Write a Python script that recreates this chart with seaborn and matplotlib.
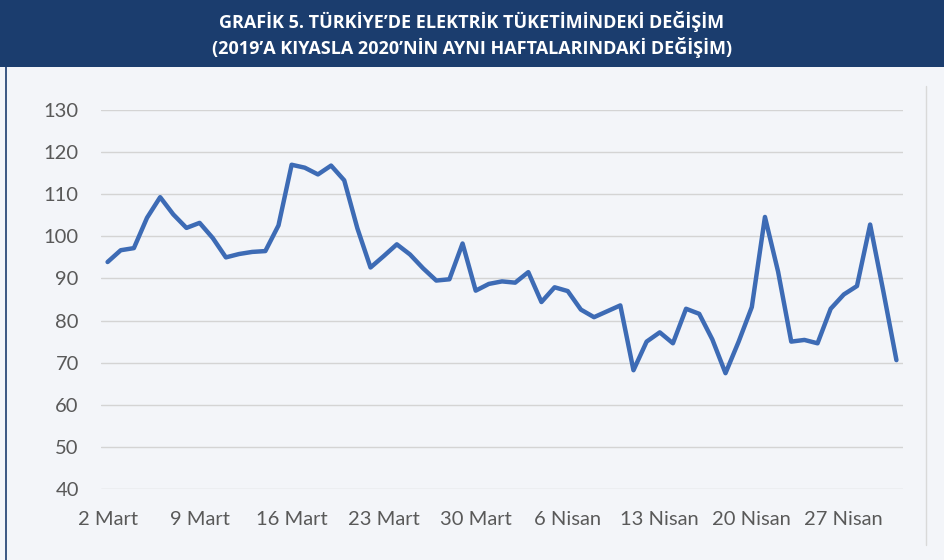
import matplotlib
matplotlib.use('Agg')
import matplotlib.pyplot as plt
import seaborn as sns
import pandas as pd
from matplotlib.patches import Rectangle
from matplotlib.lines import Line2D

# Daily values, 2 Mart - 1 Mayis 2020 (2019 = 100)
values = [93.9, 96.7, 97.2, 104.4, 109.3, 105.2, 102.0, 103.2, 99.6, 95.0,
          95.8, 96.3, 96.5, 102.6, 117.0, 116.3, 114.7, 116.8, 113.3, 101.9,
          92.6, 95.3, 98.1, 95.7, 92.4, 89.5, 89.8, 98.3, 87.1, 88.7,
          89.3, 89.0, 91.5, 84.4, 87.9, 87.0, 82.6, 80.8, 82.2, 83.6,
          68.2, 75.0, 77.2, 74.6, 82.8, 81.6, 75.5, 67.5, 75.0, 83.2,
          104.6, 91.6, 75.0, 75.4, 74.6, 82.8, 86.2, 88.2, 102.8, 87.0,
          70.6]
tick_labels = ['2 Mart', '9 Mart', '16 Mart', '23 Mart', '30 Mart',
               '6 Nisan', '13 Nisan', '20 Nisan', '27 Nisan']
y_ticks = [40, 50, 60, 70, 80, 90, 100, 110, 120, 130]
title_lines = ['GRAFİK 5. TÜRKİYE’DE ELEKTRİK TÜKETİMİNDEKİ DEĞİŞİM',
               '(2019’A KIYASLA 2020’NİN AYNI HAFTALARINDAKİ DEĞİŞİM)']

df = pd.DataFrame({'gun': range(len(values)), 'deger': values})

bg = '#f3f5f9'
navy = '#1b3d6e'
line_color = '#3d6bb5'
text_color = '#595959'

sns.set_style('white')
plt.rcParams['font.family'] = ['Lato', 'DejaVu Sans']

fig = plt.figure(figsize=(9.44, 5.6), dpi=100)
fig.patch.set_facecolor(bg)

# header band
fig.patches.append(Rectangle((0, 1 - 67 / 560), 1, 67 / 560, transform=fig.transFigure,
                             facecolor=navy, edgecolor='none', zorder=0))
fig.text(0.5, 1 - 22 / 560, title_lines[0], ha='center', va='center', color='white',
         fontsize=13, fontweight='bold', family=['Open Sans', 'DejaVu Sans'])
fig.text(0.5, 1 - 48 / 560, title_lines[1], ha='center', va='center', color='white',
         fontsize=13, fontweight='bold', family=['Open Sans', 'DejaVu Sans'])
# left navy border and right grey chart-area edge
fig.lines.append(Line2D([5.5 / 944, 5.5 / 944], [0, 1 - 67 / 560], transform=fig.transFigure,
                        color=navy, lw=1.2))
fig.lines.append(Line2D([926 / 944, 926 / 944], [1 - 545 / 560, 1 - 86 / 560],
                        transform=fig.transFigure, color='#d9d9d9', lw=1))

ax = fig.add_axes([101 / 944, 1 - 489 / 560, 802 / 944, 379 / 560])
ax.set_facecolor(bg)
sns.lineplot(data=df, x='gun', y='deger', ax=ax, color=line_color, linewidth=3.2)

ax.set_xlim(-0.5, len(values) - 0.5)
ax.set_ylim(40, 130)
ax.set_yticks(y_ticks)
ax.set_xticks(range(0, 7 * len(tick_labels), 7))
ax.set_xticklabels(tick_labels)
ax.yaxis.grid(True, color='#d4d4d4', linewidth=1)
ax.set_axisbelow(True)
ax.tick_params(axis='both', length=0, labelsize=14.5, colors=text_color)
ax.tick_params(axis='y', pad=16)
ax.tick_params(axis='x', pad=16)
ax.set_xlabel('')
ax.set_ylabel('')
for s in ax.spines.values():
    s.set_visible(False)

fig.savefig('out.png', dpi=100, facecolor=bg)
